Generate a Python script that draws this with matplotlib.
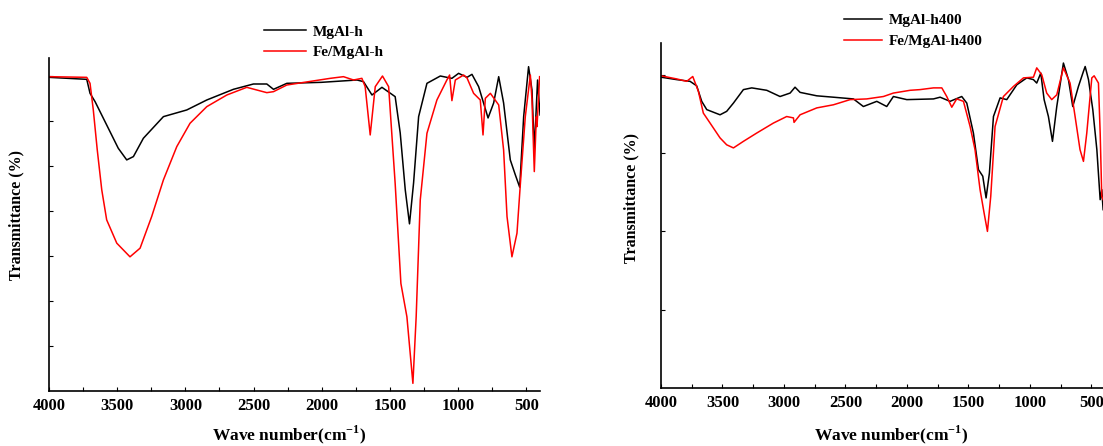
import numpy as np
import matplotlib
matplotlib.use("Agg")
import matplotlib.pyplot as plt
from matplotlib.ticker import MultipleLocator

plt.rcParams['font.family'] = ['Liberation Serif', 'DejaVu Serif']
plt.rcParams['font.weight'] = 'bold'
plt.rcParams['mathtext.fontset'] = 'custom'
plt.rcParams['mathtext.bf'] = 'Liberation Serif:bold'
plt.rcParams['mathtext.rm'] = 'Liberation Serif:bold'

# ---- left panel: as-prepared samples (arbitrary units) ----
wn_mgal_h = [4000, 3723, 3699, 3662, 3577, 3492, 3430, 3381, 3308, 3161, 2990, 2843, 2648,
             2501, 2403, 2354, 2256, 2003, 1741, 1694, 1632, 1559, 1462, 1425, 1388, 1357,
             1327, 1290, 1229, 1131, 1046, 997, 935, 899, 850, 781, 740, 703, 667, 618,
             581, 549, 520, 484, 459, 442, 418, 400]
t_mgal_h = [94.2, 93.6, 89.4, 86.9, 79.9, 72.9, 69.4, 70.4, 75.9, 82.4, 84.4, 87.4, 90.6,
            92.2, 92.2, 90.6, 92.4, 92.7, 93.4, 92.9, 88.9, 91.2, 88.4, 77.5, 60.4, 50.2,
            62.5, 82.4, 92.4, 94.6, 93.9, 95.4, 94.2, 95.1, 91.4, 82.0, 86.5, 94.4, 86.5, 69.4,
            64.9, 61.2, 82.4, 97.4, 90.4, 72.4, 93.4, 82.9]

wn_fe_h = [4000, 3723, 3699, 3675, 3646, 3613, 3577, 3503, 3406, 3332, 3247, 3161, 3063,
           2966, 2843, 2696, 2550, 2403, 2354, 2256, 1938, 1841, 1767, 1706, 1682, 1645,
           1608, 1555, 1510, 1462, 1420, 1376, 1332, 1308, 1278, 1229, 1156, 1083, 1063,
           1046, 1021, 960, 935, 887, 838, 818, 801, 764, 703, 667, 642, 606, 569, 544,
           508, 471, 459, 442, 427, 422, 403]
t_fe_h = [94.4, 94.2, 92.4, 84.4, 72.4, 60.4, 51.4, 44.4, 40.3, 42.9, 52.4, 63.4, 73.4,
          80.4, 85.4, 88.9, 91.2, 89.6, 89.9, 91.9, 93.9, 94.4, 93.4, 93.9, 91.4, 76.9,
          91.4, 94.6, 91.4, 62.3, 32.3, 22.3, 2.3, 22.3, 57.4, 77.4, 87.4, 93.4, 94.9,
          87.2, 93.4, 94.9, 94.0, 89.4, 87.4, 76.9, 87.9, 89.4, 85.9, 72.4, 52.4, 40.3, 47.4, 62.3,
          82.4, 94.9, 87.4, 65.9, 82.4, 79.4, 94.4]

# ---- right panel: calcined at 400 C ----
wn_mgal_h400 = [4000, 3873, 3764, 3710, 3669, 3628, 3520, 3466, 3411, 3330, 3262, 3140, 3032,
                2950, 2910, 2869, 2733, 2598, 2435, 2354, 2245, 2164, 2110, 2001, 1784, 1730,
                1649, 1554, 1513, 1459, 1418, 1383, 1356, 1329, 1296, 1242, 1188, 1106, 1025,
                971, 944, 911, 884, 849, 816, 781, 727, 686, 651, 605, 564, 550, 523, 488,
                455, 428, 415, 404]
t_mgal_h400 = [90.1, 89.4, 88.9, 87.6, 83.1, 80.7, 79.2, 80.2, 82.6, 86.5, 87.0, 86.3, 84.5,
               85.5, 87.2, 85.7, 84.7, 84.3, 83.8, 81.6, 83.1, 81.6, 84.5, 83.6, 83.8, 84.3,
               83.1, 84.5, 82.6, 73.9, 63.3, 61.4, 55.1, 62.3, 78.7, 84.1, 83.6, 87.9, 89.9,
               89.4, 88.4, 91.3, 83.6, 78.7, 71.5, 81.6, 94.2, 89.4, 81.6, 87.4, 91.8, 93.2,
               89.4, 80.7, 69.1, 54.6, 57.5, 51.7]

wn_fe_h400 = [4000, 3873, 3791, 3742, 3696, 3656, 3601, 3520, 3466, 3411, 3330, 3222, 3086,
              2978, 2923, 2918, 2869, 2733, 2598, 2462, 2327, 2191, 2110, 1974, 1893, 1784,
              1716, 1676, 1635, 1595, 1540, 1486, 1446, 1405, 1372, 1345, 1318, 1283, 1215,
              1134, 1052, 971, 944, 903, 863, 822, 781, 727, 673, 632, 592, 564, 537, 496,
              477, 442, 428, 415, 404]
t_fe_h400 = [90.5, 89.6, 88.9, 90.3, 86.0, 79.7, 76.8, 72.5, 70.5, 69.6, 71.5, 73.9, 76.8,
             78.7, 78.3, 77.0, 79.2, 81.2, 82.1, 83.6, 83.8, 84.5, 85.5, 86.3, 86.5, 87.0,
             87.0, 84.5, 81.4, 83.8, 83.1, 75.8, 69.1, 57.5, 50.7, 45.4, 55.6, 75.8, 84.5,
             87.4, 89.9, 90.1, 92.8, 90.8, 85.5, 83.6, 85.0, 92.8, 88.4, 78.7, 69.1, 65.7,
             73.9, 89.9, 90.5, 88.4, 73.9, 55.6, 54.6]

fig = plt.figure(figsize=(11.03, 4.46), dpi=100)
ax1 = fig.add_axes([0.0444, 0.1233, 0.4452, 0.7466])
ax2 = fig.add_axes([0.5993, 0.130, 0.4007, 0.7735])


def style_axis(ax, xmin, tick_step):
    ax.set_xlim(4000, xmin)
    ax.set_ylim(0, 100)
    for s in ['top', 'right']:
        ax.spines[s].set_visible(False)
    for s in ['left', 'bottom']:
        ax.spines[s].set_linewidth(1.2)
    ax.xaxis.set_major_locator(MultipleLocator(500))
    ax.xaxis.set_minor_locator(MultipleLocator(250))
    ax.set_yticks(np.arange(tick_step, 100, tick_step))
    ax.tick_params(axis='x', which='both', direction='in', length=3, width=0.8,
                   labelsize=12, pad=5)
    ax.tick_params(axis='y', direction='in', length=3, width=0.8, labelleft=False)
    for lab in ax.get_xticklabels():
        lab.set_fontweight('bold')
    ax.set_ylabel('Transmittance (%)', fontsize=11.5, fontweight='bold')
    ax.set_xlabel(r'Wave number(cm$^{\mathbf{-1}}$)', fontsize=12.5, fontweight='bold')


ax1.plot(wn_mgal_h, t_mgal_h, color='black', lw=1.1, label='MgAl-h')
ax1.plot(wn_fe_h, t_fe_h, color='red', lw=1.1, label='Fe/MgAl-h')
style_axis(ax1, 400, 13.5)
ax1.xaxis.set_label_coords(0.49, -0.098)
ax1.yaxis.set_label_coords(-0.051, 0.53)
ax1.legend(loc='lower left', bbox_to_anchor=(0.437, 0.996), frameon=False,
           prop={'weight': 'bold', 'size': 11}, handlelength=2.8, handletextpad=0.45,
           labelspacing=0.45, borderaxespad=0, borderpad=0)

ax2.plot(wn_mgal_h400, t_mgal_h400, color='black', lw=1.1, label='MgAl-h400')
ax2.plot(wn_fe_h400, t_fe_h400, color='red', lw=1.1, label='Fe/MgAl-h400')
style_axis(ax2, 405, 22.7)
ax2.xaxis.set_label_coords(0.52, -0.103)
ax2.yaxis.set_label_coords(-0.05, 0.55)
ax2.legend(loc='lower left', bbox_to_anchor=(0.413, 0.986), frameon=False,
           prop={'weight': 'bold', 'size': 11}, handlelength=2.5, handletextpad=0.45,
           labelspacing=0.45, borderaxespad=0, borderpad=0)

fig.savefig('out.png', dpi=100)
